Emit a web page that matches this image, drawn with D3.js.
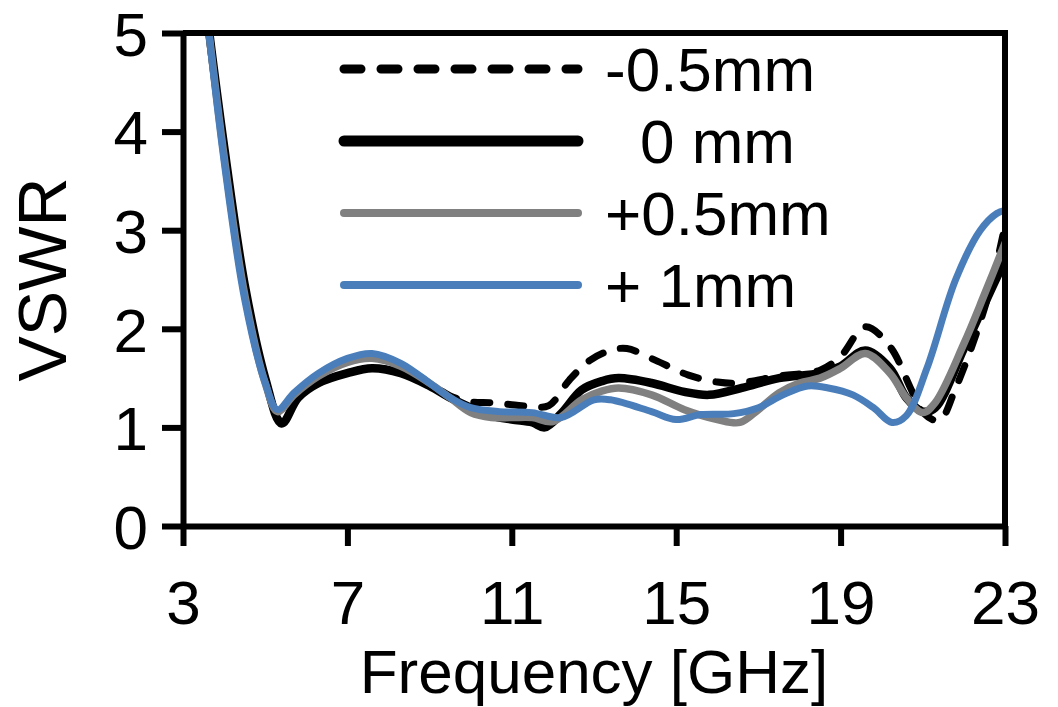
<!DOCTYPE html>
<html>
<head>
<meta charset="utf-8">
<script src="https://cdn.jsdelivr.net/npm/d3@7"></script>
<style>
	body{margin:0;background:#fff;}
	.axis text{font-family:"Liberation Sans",Arial,sans-serif;font-size:62px;fill:#000;}
	.axis path,.axis line{stroke:#000;stroke-width:6;}
	.axisTitle,.legendText{font-family:"Liberation Sans",Arial,sans-serif;font-size:62px;fill:#000;}
</style>
</head>
<body>
<script>
//wrap everything in a self-executing anonymous function
(function(){
	//series labels and tick values
	var seriesNames=["-0.5mm","0 mm","+0.5mm","+ 1mm"];
	var xTicks=[3,7,11,15,19,23];
	var yTicks=[0,1,2,3,4,5];

	//frequency [GHz] and VSWR values
	var freqM05=[3.55,4.0,4.5,5.0,5.4,5.8,6.3,7.0,7.6,8.3,8.9,9.5,10.0,10.5,11.0,11.5,11.9,12.4,12.9,13.4,13.8,14.5,15.3,16.0,16.5,17.5,18.5,19.0,19.6,20.2,20.7,21.0,21.4,21.8,22.3,22.7,23.0];
	var vswrM05=[5.3,3.85,2.45,1.5,1.06,1.3,1.45,1.55,1.6,1.56,1.47,1.32,1.26,1.25,1.23,1.21,1.22,1.48,1.68,1.78,1.8,1.68,1.53,1.46,1.45,1.52,1.58,1.72,2.02,1.82,1.4,1.15,1.07,1.4,1.95,2.5,3.05];

	var freq0=[3.55,4.0,4.5,5.0,5.4,5.8,6.3,7.0,7.6,8.3,9.0,9.5,10.0,10.5,11.0,11.5,11.8,12.2,12.7,13.2,13.6,14.4,15.2,15.8,16.6,17.5,18.5,19.0,19.6,20.2,20.6,21.0,21.3,22.0,22.5,23.0];
	var vswr0=[5.3,3.85,2.45,1.5,1.04,1.3,1.45,1.55,1.6,1.55,1.42,1.3,1.2,1.12,1.08,1.05,1.0,1.14,1.38,1.47,1.5,1.45,1.36,1.33,1.4,1.5,1.55,1.62,1.78,1.6,1.3,1.16,1.2,1.8,2.25,2.7];

	var freqP05=[3.55,4.0,4.5,5.0,5.3,5.7,6.3,7.0,7.6,8.3,9.0,9.5,10.0,10.5,11.0,11.5,12.0,12.7,13.2,13.6,14.4,15.2,16.0,16.55,17.0,17.5,18.0,18.5,19.0,19.6,20.2,20.6,21.0,21.3,22.0,22.5,23.0];
	var vswrP05=[5.3,3.75,2.35,1.45,1.16,1.33,1.52,1.66,1.7,1.62,1.45,1.3,1.15,1.1,1.1,1.1,1.06,1.28,1.37,1.4,1.33,1.18,1.08,1.05,1.18,1.35,1.45,1.5,1.6,1.75,1.55,1.3,1.15,1.25,1.85,2.35,2.87];

	var freqP1=[3.55,4.0,4.5,5.0,5.3,5.7,6.3,7.0,7.6,8.3,9.0,9.5,10.0,10.7,11.5,12.2,13.0,13.4,14.4,15.0,15.6,16.4,17.0,17.6,18.2,18.7,19.3,19.8,20.25,20.6,21.1,21.8,22.4,22.8,23.0];
	var vswrP1=[5.3,3.7,2.3,1.45,1.18,1.35,1.55,1.7,1.75,1.65,1.45,1.3,1.2,1.16,1.15,1.1,1.28,1.28,1.16,1.08,1.13,1.14,1.2,1.33,1.42,1.4,1.33,1.2,1.05,1.12,1.6,2.5,3.0,3.17,3.2];

	var series=[
		{name:seriesNames[0],x:freqM05,y:vswrM05,color:"#000",width:7,dash:"16,18"},
		{name:seriesNames[1],x:freq0,y:vswr0,color:"#000",width:8.5,dash:null},
		{name:seriesNames[2],x:freqP05,y:vswrP05,color:"#808080",width:7.5,dash:null},
		{name:seriesNames[3],x:freqP1,y:vswrP1,color:"#4a7ebb",width:7,dash:null}
	];

	//chart frame
	var width=1058,
		height=707,
		left=183,
		right=1005,
		top=33,
		bottom=526;

	var svg=d3.select("body")
		.append("svg")
		.attr("width",width)
		.attr("height",height);

	var x=d3.scaleLinear().domain([3,23]).range([left,right]);
	var y=d3.scaleLinear().domain([0,5]).range([bottom,top]);

	//clip so the steep start does not leave the frame
	svg.append("clipPath")
		.attr("id","plotClip")
		.append("rect")
		.attr("x",left)
		.attr("y",top)
		.attr("width",right-left)
		.attr("height",bottom-top);

	var line=d3.line()
		.x(function(d){return x(d[0]);})
		.y(function(d){return y(d[1]);})
		.curve(d3.curveCatmullRom.alpha(0.5));

	var plot=svg.append("g").attr("clip-path","url(#plotClip)");
	series.forEach(function(s){
		var pts=s.x.map(function(v,i){return [v,s.y[i]];});
		plot.append("path")
			.datum(pts)
			.attr("d",line)
			.attr("fill","none")
			.attr("stroke",s.color)
			.attr("stroke-width",s.width)
			.attr("stroke-linecap","round")
			.attr("stroke-linejoin","round")
			.attr("stroke-dasharray",s.dash);
	});

	//frame top and right
	svg.append("path")
		.attr("d","M"+left+","+top+"H"+right+"V"+bottom)
		.attr("fill","none")
		.attr("stroke","#000")
		.attr("stroke-width",6);

	//axes
	var xAxis=svg.append("g")
		.attr("class","axis")
		.attr("transform","translate(0,"+bottom+")")
		.call(d3.axisBottom(x).tickValues(xTicks).tickSize(20).tickSizeOuter(0).tickPadding(34).tickFormat(d3.format("d")));
	xAxis.selectAll("text").attr("dy","0.71em");

	var yAxis=svg.append("g")
		.attr("class","axis")
		.attr("transform","translate("+left+",0)")
		.call(d3.axisLeft(y).tickValues(yTicks).tickSize(21).tickSizeOuter(0).tickPadding(14).tickFormat(d3.format("d")));
	yAxis.selectAll("text").attr("dy","0.36em");

	//axis titles
	svg.append("text")
		.attr("class","axisTitle")
		.attr("x",(left+right)/2)
		.attr("y",693)
		.attr("text-anchor","middle")
		.text("Frequency [GHz]");

	svg.append("text")
		.attr("class","axisTitle")
		.attr("transform","translate(66,"+((top+bottom)/2)+") rotate(-90)")
		.attr("text-anchor","middle")
		.style("font-size","68px")
		.text("VSWR");

	//legend
	var legendY=[69,141,213,285];
	var legendX=[605,640,605,605];
	var legend=svg.append("g");
	series.forEach(function(s,i){
		legend.append("line")
			.attr("x1",344)
			.attr("x2",578)
			.attr("y1",legendY[i])
			.attr("y2",legendY[i])
			.attr("stroke",s.color)
			.attr("stroke-width",i==1?11:(i==0?9:8))
			.attr("stroke-linecap","round")
			.attr("stroke-dasharray",i==0?"17,20":null);
		legend.append("text")
			.attr("class","legendText")
			.attr("x",legendX[i])
			.attr("y",legendY[i]+22)
			.text(s.name);
	});
})();
</script>
</body>
</html>
